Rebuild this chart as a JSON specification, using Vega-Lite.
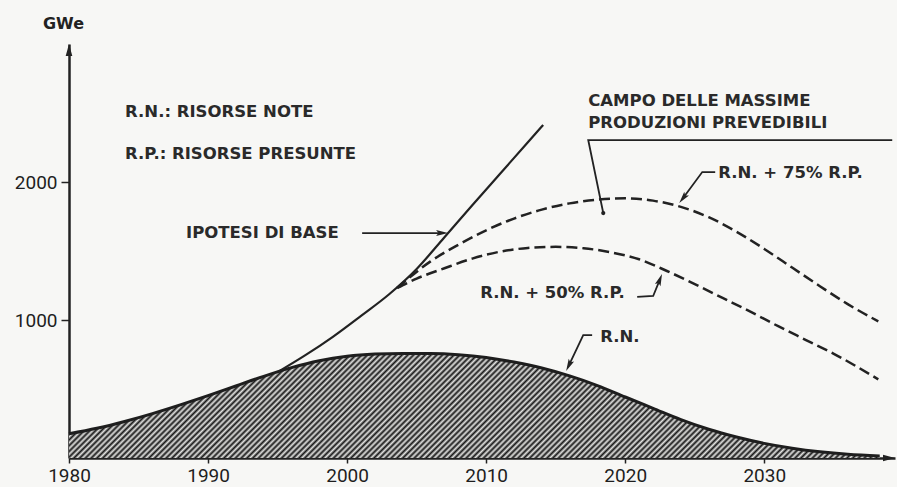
{
  "$schema": "https://vega.github.io/schema/vega-lite/v6.json",
  "width": 826,
  "height": 414,
  "autosize": {"type": "none"},
  "padding": {"left": 69, "top": 44, "right": 2, "bottom": 29},
  "background": "#f7f7f5",
  "config": {"view": {"stroke": null}, "font": "DejaVu Sans"},
  "datasets": {
    "rn": [
      {"x": 1980, "y": 175}, {"x": 1982, "y": 215}, {"x": 1984, "y": 265}, {"x": 1986, "y": 322},
      {"x": 1988, "y": 385}, {"x": 1990, "y": 452}, {"x": 1992, "y": 522}, {"x": 1994, "y": 592},
      {"x": 1996, "y": 655}, {"x": 1998, "y": 705}, {"x": 2000, "y": 737}, {"x": 2002, "y": 753},
      {"x": 2004, "y": 758}, {"x": 2006, "y": 757}, {"x": 2008, "y": 748}, {"x": 2010, "y": 728},
      {"x": 2012, "y": 695}, {"x": 2014, "y": 652}, {"x": 2016, "y": 595}, {"x": 2018, "y": 525},
      {"x": 2020, "y": 442}, {"x": 2022, "y": 360}, {"x": 2024, "y": 278}, {"x": 2026, "y": 208},
      {"x": 2028, "y": 152}, {"x": 2030, "y": 106}, {"x": 2032, "y": 71}, {"x": 2034, "y": 45},
      {"x": 2036, "y": 27}, {"x": 2038.3, "y": 15}
    ],
    "base": [
      {"x": 1995, "y": 622}, {"x": 1997, "y": 745}, {"x": 1999, "y": 880}, {"x": 2001, "y": 1030},
      {"x": 2003, "y": 1185}, {"x": 2005, "y": 1370}, {"x": 2007, "y": 1600}, {"x": 2009, "y": 1832},
      {"x": 2011, "y": 2060}, {"x": 2013, "y": 2288}, {"x": 2014.1, "y": 2413}
    ],
    "p75": [
      {"x": 2003.6, "y": 1232}, {"x": 2006, "y": 1425}, {"x": 2008, "y": 1545}, {"x": 2010, "y": 1650},
      {"x": 2012, "y": 1735}, {"x": 2014, "y": 1800}, {"x": 2016, "y": 1845}, {"x": 2018, "y": 1872},
      {"x": 2020, "y": 1882}, {"x": 2022, "y": 1865}, {"x": 2024, "y": 1820}, {"x": 2026, "y": 1745},
      {"x": 2028, "y": 1640}, {"x": 2030, "y": 1515}, {"x": 2032, "y": 1380}, {"x": 2034, "y": 1245},
      {"x": 2036, "y": 1115}, {"x": 2038.2, "y": 990}
    ],
    "p50": [
      {"x": 2003.6, "y": 1232}, {"x": 2005, "y": 1300}, {"x": 2007, "y": 1375}, {"x": 2009, "y": 1445},
      {"x": 2011, "y": 1495}, {"x": 2013, "y": 1522}, {"x": 2015, "y": 1530}, {"x": 2017, "y": 1520},
      {"x": 2019, "y": 1490}, {"x": 2021, "y": 1440}, {"x": 2023, "y": 1355}, {"x": 2025, "y": 1260},
      {"x": 2027, "y": 1160}, {"x": 2029, "y": 1060}, {"x": 2031, "y": 955}, {"x": 2033, "y": 855},
      {"x": 2035, "y": 755}, {"x": 2038.2, "y": 570}
    ],
    "notes": [
      {"x": 1984.03, "y": 2507, "t": "R.N.: RISORSE NOTE"},
      {"x": 1984.03, "y": 2203, "t": "R.P.: RISORSE PRESUNTE"},
      {"x": 1988.42, "y": 1630, "t": "IPOTESI DI BASE"},
      {"x": 2017.34, "y": 2587, "t": "CAMPO DELLE MASSIME"},
      {"x": 2017.34, "y": 2428, "t": "PRODUZIONI PREVEDIBILI"},
      {"x": 2026.69, "y": 2065, "t": "R.N. + 75% R.P."},
      {"x": 2009.57, "y": 1196, "t": "R.N. + 50% R.P."},
      {"x": 2018.2, "y": 877, "t": "R.N."}
    ],
    "leaders": [
      {"id": "base", "o": 0, "x": 2001.08, "y": 1630}, {"id": "base", "o": 1, "x": 2006.8, "y": 1630},
      {"id": "p75", "o": 0, "x": 2026.47, "y": 2072}, {"id": "p75", "o": 1, "x": 2025.54, "y": 2072}, {"id": "p75", "o": 2, "x": 2024.15, "y": 1882},
      {"id": "p50", "o": 0, "x": 2020.86, "y": 1167}, {"id": "p50", "o": 1, "x": 2022.01, "y": 1174}, {"id": "p50", "o": 2, "x": 2022.49, "y": 1293},
      {"id": "rn", "o": 0, "x": 2017.62, "y": 891}, {"id": "rn", "o": 1, "x": 2016.98, "y": 891}, {"id": "rn", "o": 2, "x": 2015.94, "y": 670},
      {"id": "campo", "o": 0, "x": 2039.2, "y": 2304}, {"id": "campo", "o": 1, "x": 2017.34, "y": 2304}, {"id": "campo", "o": 2, "x": 2018.42, "y": 1775}
    ],
    "heads": [
      {"id": "base", "x": 2006.83, "y": 1630},
      {"id": "p75", "x": 2024.15, "y": 1882},
      {"id": "p50", "x": 2022.49, "y": 1293},
      {"id": "rn", "x": 2015.94, "y": 670},
      {"id": "dot", "x": 2018.42, "y": 1775},
      {"id": "xaxis", "x": 2038.97, "y": 0},
      {"id": "yaxis", "x": 1980, "y": 2957}
    ]
  },
  "encoding": {
    "x": {
      "field": "x", "type": "quantitative",
      "scale": {"domain": [1980, 2039.4], "nice": false, "zero": false},
      "axis": {
        "values": [1980, 1990, 2000, 2010, 2020, 2030], "format": "d", "title": null, "grid": false,
        "domainColor": "#222", "domainWidth": 2.5, "tickColor": "#222", "tickWidth": 1.5, "tickSize": 5,
        "labelFont": "Roboto", "labelFontSize": 19, "labelColor": "#1e1e1e", "labelPadding": 3, "labelFlush": false
      }
    },
    "y": {
      "field": "y", "type": "quantitative",
      "scale": {"domain": [0, 3000], "nice": false},
      "axis": {
        "values": [1000, 2000], "format": "d", "title": "GWe", "titleAngle": 0, "titleX": -6, "titleY": -21,
        "titleAlign": "center", "titleBaseline": "middle", "titleFont": "DejaVu Sans", "titleFontSize": 16,
        "titleFontWeight": "bold", "titleColor": "#222", "grid": false,
        "domainColor": "#222", "domainWidth": 2.5, "tickColor": "#222", "tickWidth": 1.5, "tickSize": 8,
        "labelFont": "Roboto", "labelFontSize": 19, "labelColor": "#1e1e1e", "labelPadding": 4
      }
    }
  },
  "layer": [
    {"data": {"name": "rn"}, "mark": {"type": "area", "interpolate": "monotone", "stroke": null, "fill": {"gradient": "linear", "x1": 0, "y1": 0, "x2": 1.12, "y2": 0.1445, "stops": [
{"offset":0,"color":"#181818"},{"offset":0.0031,"color":"#e2e2e0"},{"offset":0.0063,"color":"#181818"},{"offset":0.0094,"color":"#e2e2e0"},{"offset":0.0125,"color":"#181818"},{"offset":0.0156,"color":"#e2e2e0"},{"offset":0.0188,"color":"#181818"},{"offset":0.0219,"color":"#e2e2e0"},
{"offset":0.025,"color":"#181818"},{"offset":0.0281,"color":"#e2e2e0"},{"offset":0.0313,"color":"#181818"},{"offset":0.0344,"color":"#e2e2e0"},{"offset":0.0375,"color":"#181818"},{"offset":0.0406,"color":"#e2e2e0"},{"offset":0.0438,"color":"#181818"},{"offset":0.0469,"color":"#e2e2e0"},
{"offset":0.05,"color":"#181818"},{"offset":0.0531,"color":"#e2e2e0"},{"offset":0.0563,"color":"#181818"},{"offset":0.0594,"color":"#e2e2e0"},{"offset":0.0625,"color":"#181818"},{"offset":0.0656,"color":"#e2e2e0"},{"offset":0.0688,"color":"#181818"},{"offset":0.0719,"color":"#e2e2e0"},
{"offset":0.075,"color":"#181818"},{"offset":0.0781,"color":"#e2e2e0"},{"offset":0.0813,"color":"#181818"},{"offset":0.0844,"color":"#e2e2e0"},{"offset":0.0875,"color":"#181818"},{"offset":0.0906,"color":"#e2e2e0"},{"offset":0.0938,"color":"#181818"},{"offset":0.0969,"color":"#e2e2e0"},
{"offset":0.1,"color":"#181818"},{"offset":0.1031,"color":"#e2e2e0"},{"offset":0.1063,"color":"#181818"},{"offset":0.1094,"color":"#e2e2e0"},{"offset":0.1125,"color":"#181818"},{"offset":0.1156,"color":"#e2e2e0"},{"offset":0.1188,"color":"#181818"},{"offset":0.1219,"color":"#e2e2e0"},
{"offset":0.125,"color":"#181818"},{"offset":0.1281,"color":"#e2e2e0"},{"offset":0.1313,"color":"#181818"},{"offset":0.1344,"color":"#e2e2e0"},{"offset":0.1375,"color":"#181818"},{"offset":0.1406,"color":"#e2e2e0"},{"offset":0.1438,"color":"#181818"},{"offset":0.1469,"color":"#e2e2e0"},
{"offset":0.15,"color":"#181818"},{"offset":0.1531,"color":"#e2e2e0"},{"offset":0.1563,"color":"#181818"},{"offset":0.1594,"color":"#e2e2e0"},{"offset":0.1625,"color":"#181818"},{"offset":0.1656,"color":"#e2e2e0"},{"offset":0.1688,"color":"#181818"},{"offset":0.1719,"color":"#e2e2e0"},
{"offset":0.175,"color":"#181818"},{"offset":0.1781,"color":"#e2e2e0"},{"offset":0.1813,"color":"#181818"},{"offset":0.1844,"color":"#e2e2e0"},{"offset":0.1875,"color":"#181818"},{"offset":0.1906,"color":"#e2e2e0"},{"offset":0.1938,"color":"#181818"},{"offset":0.1969,"color":"#e2e2e0"},
{"offset":0.2,"color":"#181818"},{"offset":0.2031,"color":"#e2e2e0"},{"offset":0.2063,"color":"#181818"},{"offset":0.2094,"color":"#e2e2e0"},{"offset":0.2125,"color":"#181818"},{"offset":0.2156,"color":"#e2e2e0"},{"offset":0.2188,"color":"#181818"},{"offset":0.2219,"color":"#e2e2e0"},
{"offset":0.225,"color":"#181818"},{"offset":0.2281,"color":"#e2e2e0"},{"offset":0.2313,"color":"#181818"},{"offset":0.2344,"color":"#e2e2e0"},{"offset":0.2375,"color":"#181818"},{"offset":0.2406,"color":"#e2e2e0"},{"offset":0.2438,"color":"#181818"},{"offset":0.2469,"color":"#e2e2e0"},
{"offset":0.25,"color":"#181818"},{"offset":0.2531,"color":"#e2e2e0"},{"offset":0.2563,"color":"#181818"},{"offset":0.2594,"color":"#e2e2e0"},{"offset":0.2625,"color":"#181818"},{"offset":0.2656,"color":"#e2e2e0"},{"offset":0.2688,"color":"#181818"},{"offset":0.2719,"color":"#e2e2e0"},
{"offset":0.275,"color":"#181818"},{"offset":0.2781,"color":"#e2e2e0"},{"offset":0.2813,"color":"#181818"},{"offset":0.2844,"color":"#e2e2e0"},{"offset":0.2875,"color":"#181818"},{"offset":0.2906,"color":"#e2e2e0"},{"offset":0.2938,"color":"#181818"},{"offset":0.2969,"color":"#e2e2e0"},
{"offset":0.3,"color":"#181818"},{"offset":0.3031,"color":"#e2e2e0"},{"offset":0.3063,"color":"#181818"},{"offset":0.3094,"color":"#e2e2e0"},{"offset":0.3125,"color":"#181818"},{"offset":0.3156,"color":"#e2e2e0"},{"offset":0.3188,"color":"#181818"},{"offset":0.3219,"color":"#e2e2e0"},
{"offset":0.325,"color":"#181818"},{"offset":0.3281,"color":"#e2e2e0"},{"offset":0.3313,"color":"#181818"},{"offset":0.3344,"color":"#e2e2e0"},{"offset":0.3375,"color":"#181818"},{"offset":0.3406,"color":"#e2e2e0"},{"offset":0.3438,"color":"#181818"},{"offset":0.3469,"color":"#e2e2e0"},
{"offset":0.35,"color":"#181818"},{"offset":0.3531,"color":"#e2e2e0"},{"offset":0.3563,"color":"#181818"},{"offset":0.3594,"color":"#e2e2e0"},{"offset":0.3625,"color":"#181818"},{"offset":0.3656,"color":"#e2e2e0"},{"offset":0.3688,"color":"#181818"},{"offset":0.3719,"color":"#e2e2e0"},
{"offset":0.375,"color":"#181818"},{"offset":0.3781,"color":"#e2e2e0"},{"offset":0.3813,"color":"#181818"},{"offset":0.3844,"color":"#e2e2e0"},{"offset":0.3875,"color":"#181818"},{"offset":0.3906,"color":"#e2e2e0"},{"offset":0.3938,"color":"#181818"},{"offset":0.3969,"color":"#e2e2e0"},
{"offset":0.4,"color":"#181818"},{"offset":0.4031,"color":"#e2e2e0"},{"offset":0.4063,"color":"#181818"},{"offset":0.4094,"color":"#e2e2e0"},{"offset":0.4125,"color":"#181818"},{"offset":0.4156,"color":"#e2e2e0"},{"offset":0.4188,"color":"#181818"},{"offset":0.4219,"color":"#e2e2e0"},
{"offset":0.425,"color":"#181818"},{"offset":0.4281,"color":"#e2e2e0"},{"offset":0.4313,"color":"#181818"},{"offset":0.4344,"color":"#e2e2e0"},{"offset":0.4375,"color":"#181818"},{"offset":0.4406,"color":"#e2e2e0"},{"offset":0.4438,"color":"#181818"},{"offset":0.4469,"color":"#e2e2e0"},
{"offset":0.45,"color":"#181818"},{"offset":0.4531,"color":"#e2e2e0"},{"offset":0.4563,"color":"#181818"},{"offset":0.4594,"color":"#e2e2e0"},{"offset":0.4625,"color":"#181818"},{"offset":0.4656,"color":"#e2e2e0"},{"offset":0.4688,"color":"#181818"},{"offset":0.4719,"color":"#e2e2e0"},
{"offset":0.475,"color":"#181818"},{"offset":0.4781,"color":"#e2e2e0"},{"offset":0.4813,"color":"#181818"},{"offset":0.4844,"color":"#e2e2e0"},{"offset":0.4875,"color":"#181818"},{"offset":0.4906,"color":"#e2e2e0"},{"offset":0.4938,"color":"#181818"},{"offset":0.4969,"color":"#e2e2e0"},
{"offset":0.5,"color":"#181818"},{"offset":0.5031,"color":"#e2e2e0"},{"offset":0.5063,"color":"#181818"},{"offset":0.5094,"color":"#e2e2e0"},{"offset":0.5125,"color":"#181818"},{"offset":0.5156,"color":"#e2e2e0"},{"offset":0.5188,"color":"#181818"},{"offset":0.5219,"color":"#e2e2e0"},
{"offset":0.525,"color":"#181818"},{"offset":0.5281,"color":"#e2e2e0"},{"offset":0.5313,"color":"#181818"},{"offset":0.5344,"color":"#e2e2e0"},{"offset":0.5375,"color":"#181818"},{"offset":0.5406,"color":"#e2e2e0"},{"offset":0.5438,"color":"#181818"},{"offset":0.5469,"color":"#e2e2e0"},
{"offset":0.55,"color":"#181818"},{"offset":0.5531,"color":"#e2e2e0"},{"offset":0.5563,"color":"#181818"},{"offset":0.5594,"color":"#e2e2e0"},{"offset":0.5625,"color":"#181818"},{"offset":0.5656,"color":"#e2e2e0"},{"offset":0.5688,"color":"#181818"},{"offset":0.5719,"color":"#e2e2e0"},
{"offset":0.575,"color":"#181818"},{"offset":0.5781,"color":"#e2e2e0"},{"offset":0.5813,"color":"#181818"},{"offset":0.5844,"color":"#e2e2e0"},{"offset":0.5875,"color":"#181818"},{"offset":0.5906,"color":"#e2e2e0"},{"offset":0.5938,"color":"#181818"},{"offset":0.5969,"color":"#e2e2e0"},
{"offset":0.6,"color":"#181818"},{"offset":0.6031,"color":"#e2e2e0"},{"offset":0.6063,"color":"#181818"},{"offset":0.6094,"color":"#e2e2e0"},{"offset":0.6125,"color":"#181818"},{"offset":0.6156,"color":"#e2e2e0"},{"offset":0.6188,"color":"#181818"},{"offset":0.6219,"color":"#e2e2e0"},
{"offset":0.625,"color":"#181818"},{"offset":0.6281,"color":"#e2e2e0"},{"offset":0.6313,"color":"#181818"},{"offset":0.6344,"color":"#e2e2e0"},{"offset":0.6375,"color":"#181818"},{"offset":0.6406,"color":"#e2e2e0"},{"offset":0.6438,"color":"#181818"},{"offset":0.6469,"color":"#e2e2e0"},
{"offset":0.65,"color":"#181818"},{"offset":0.6531,"color":"#e2e2e0"},{"offset":0.6563,"color":"#181818"},{"offset":0.6594,"color":"#e2e2e0"},{"offset":0.6625,"color":"#181818"},{"offset":0.6656,"color":"#e2e2e0"},{"offset":0.6688,"color":"#181818"},{"offset":0.6719,"color":"#e2e2e0"},
{"offset":0.675,"color":"#181818"},{"offset":0.6781,"color":"#e2e2e0"},{"offset":0.6813,"color":"#181818"},{"offset":0.6844,"color":"#e2e2e0"},{"offset":0.6875,"color":"#181818"},{"offset":0.6906,"color":"#e2e2e0"},{"offset":0.6938,"color":"#181818"},{"offset":0.6969,"color":"#e2e2e0"},
{"offset":0.7,"color":"#181818"},{"offset":0.7031,"color":"#e2e2e0"},{"offset":0.7063,"color":"#181818"},{"offset":0.7094,"color":"#e2e2e0"},{"offset":0.7125,"color":"#181818"},{"offset":0.7156,"color":"#e2e2e0"},{"offset":0.7188,"color":"#181818"},{"offset":0.7219,"color":"#e2e2e0"},
{"offset":0.725,"color":"#181818"},{"offset":0.7281,"color":"#e2e2e0"},{"offset":0.7313,"color":"#181818"},{"offset":0.7344,"color":"#e2e2e0"},{"offset":0.7375,"color":"#181818"},{"offset":0.7406,"color":"#e2e2e0"},{"offset":0.7438,"color":"#181818"},{"offset":0.7469,"color":"#e2e2e0"},
{"offset":0.75,"color":"#181818"},{"offset":0.7531,"color":"#e2e2e0"},{"offset":0.7563,"color":"#181818"},{"offset":0.7594,"color":"#e2e2e0"},{"offset":0.7625,"color":"#181818"},{"offset":0.7656,"color":"#e2e2e0"},{"offset":0.7688,"color":"#181818"},{"offset":0.7719,"color":"#e2e2e0"},
{"offset":0.775,"color":"#181818"},{"offset":0.7781,"color":"#e2e2e0"},{"offset":0.7813,"color":"#181818"},{"offset":0.7844,"color":"#e2e2e0"},{"offset":0.7875,"color":"#181818"},{"offset":0.7906,"color":"#e2e2e0"},{"offset":0.7938,"color":"#181818"},{"offset":0.7969,"color":"#e2e2e0"},
{"offset":0.8,"color":"#181818"},{"offset":0.8031,"color":"#e2e2e0"},{"offset":0.8063,"color":"#181818"},{"offset":0.8094,"color":"#e2e2e0"},{"offset":0.8125,"color":"#181818"},{"offset":0.8156,"color":"#e2e2e0"},{"offset":0.8188,"color":"#181818"},{"offset":0.8219,"color":"#e2e2e0"},
{"offset":0.825,"color":"#181818"},{"offset":0.8281,"color":"#e2e2e0"},{"offset":0.8313,"color":"#181818"},{"offset":0.8344,"color":"#e2e2e0"},{"offset":0.8375,"color":"#181818"},{"offset":0.8406,"color":"#e2e2e0"},{"offset":0.8438,"color":"#181818"},{"offset":0.8469,"color":"#e2e2e0"},
{"offset":0.85,"color":"#181818"},{"offset":0.8531,"color":"#e2e2e0"},{"offset":0.8563,"color":"#181818"},{"offset":0.8594,"color":"#e2e2e0"},{"offset":0.8625,"color":"#181818"},{"offset":0.8656,"color":"#e2e2e0"},{"offset":0.8688,"color":"#181818"},{"offset":0.8719,"color":"#e2e2e0"},
{"offset":0.875,"color":"#181818"},{"offset":0.8781,"color":"#e2e2e0"},{"offset":0.8813,"color":"#181818"},{"offset":0.8844,"color":"#e2e2e0"},{"offset":0.8875,"color":"#181818"},{"offset":0.8906,"color":"#e2e2e0"},{"offset":0.8938,"color":"#181818"},{"offset":0.8969,"color":"#e2e2e0"},
{"offset":0.9,"color":"#181818"},{"offset":0.9031,"color":"#e2e2e0"},{"offset":0.9063,"color":"#181818"},{"offset":0.9094,"color":"#e2e2e0"},{"offset":0.9125,"color":"#181818"},{"offset":0.9156,"color":"#e2e2e0"},{"offset":0.9188,"color":"#181818"},{"offset":0.9219,"color":"#e2e2e0"},
{"offset":0.925,"color":"#181818"},{"offset":0.9281,"color":"#e2e2e0"},{"offset":0.9313,"color":"#181818"},{"offset":0.9344,"color":"#e2e2e0"},{"offset":0.9375,"color":"#181818"},{"offset":0.9406,"color":"#e2e2e0"},{"offset":0.9438,"color":"#181818"},{"offset":0.9469,"color":"#e2e2e0"},
{"offset":0.95,"color":"#181818"},{"offset":0.9531,"color":"#e2e2e0"},{"offset":0.9563,"color":"#181818"},{"offset":0.9594,"color":"#e2e2e0"},{"offset":0.9625,"color":"#181818"},{"offset":0.9656,"color":"#e2e2e0"},{"offset":0.9688,"color":"#181818"},{"offset":0.9719,"color":"#e2e2e0"},
{"offset":0.975,"color":"#181818"},{"offset":0.9781,"color":"#e2e2e0"},{"offset":0.9813,"color":"#181818"},{"offset":0.9844,"color":"#e2e2e0"},{"offset":0.9875,"color":"#181818"},{"offset":0.9906,"color":"#e2e2e0"},{"offset":0.9938,"color":"#181818"},{"offset":0.9969,"color":"#e2e2e0"},
{"offset":1,"color":"#181818"}
    ]}}, "encoding": {}},
    {"data": {"name": "rn"}, "mark": {"type": "line", "interpolate": "monotone", "color": "#1e1e1e", "strokeWidth": 3}, "encoding": {}},
    {"data": {"name": "base"}, "mark": {"type": "line", "interpolate": "monotone", "color": "#222", "strokeWidth": 2.2}, "encoding": {}},
    {"data": {"name": "p75"}, "mark": {"type": "line", "interpolate": "monotone", "color": "#222", "strokeWidth": 2.5, "strokeDash": [11, 5]}, "encoding": {}},
    {"data": {"name": "p50"}, "mark": {"type": "line", "interpolate": "monotone", "color": "#222", "strokeWidth": 2.5, "strokeDash": [11, 5]}, "encoding": {}},
    {"data": {"name": "leaders"}, "mark": {"type": "line", "color": "#222", "strokeWidth": 1.8}, "encoding": {"detail": {"field": "id"}, "order": {"field": "o"}}},
    {"data": {"name": "heads"}, "transform": [{"filter": "datum.id === 'base'"}], "mark": {"type": "point", "shape": "M0,-1L0.5,1L0,0.6L-0.5,1Z", "size": 144, "filled": true, "color": "#222", "opacity": 1, "angle": 90}},
    {"data": {"name": "heads"}, "transform": [{"filter": "datum.id === 'p75'"}], "mark": {"type": "point", "shape": "M0,-1L0.5,1L0,0.6L-0.5,1Z", "size": 144, "filled": true, "color": "#222", "opacity": 1, "angle": 218}},
    {"data": {"name": "heads"}, "transform": [{"filter": "datum.id === 'p50'"}], "mark": {"type": "point", "shape": "M0,-1L0.5,1L0,0.6L-0.5,1Z", "size": 144, "filled": true, "color": "#222", "opacity": 1, "angle": 21}},
    {"data": {"name": "heads"}, "transform": [{"filter": "datum.id === 'rn'"}], "mark": {"type": "point", "shape": "M0,-1L0.5,1L0,0.6L-0.5,1Z", "size": 144, "filled": true, "color": "#222", "opacity": 1, "angle": 206}},
    {"data": {"name": "heads"}, "transform": [{"filter": "datum.id === 'dot'"}], "mark": {"type": "point", "shape": "circle", "size": 18, "filled": true, "color": "#222", "opacity": 1}},
    {"data": {"name": "heads"}, "transform": [{"filter": "datum.id === 'xaxis'"}], "mark": {"type": "point", "shape": "M0,-1L0.55,1L-0.55,1Z", "size": 144, "filled": true, "color": "#222", "opacity": 1, "angle": 90, "clip": false}},
    {"data": {"name": "heads"}, "transform": [{"filter": "datum.id === 'yaxis'"}], "mark": {"type": "point", "shape": "M0,-1L0.55,1L-0.55,1Z", "size": 144, "filled": true, "color": "#222", "opacity": 1, "angle": 0, "clip": false}},
    {"data": {"name": "notes"}, "mark": {"type": "text", "align": "left", "baseline": "middle", "font": "DejaVu Sans", "fontWeight": "bold", "fontSize": 16.5, "color": "#2a2a2a"}, "encoding": {"text": {"field": "t"}}}
  ]
}
